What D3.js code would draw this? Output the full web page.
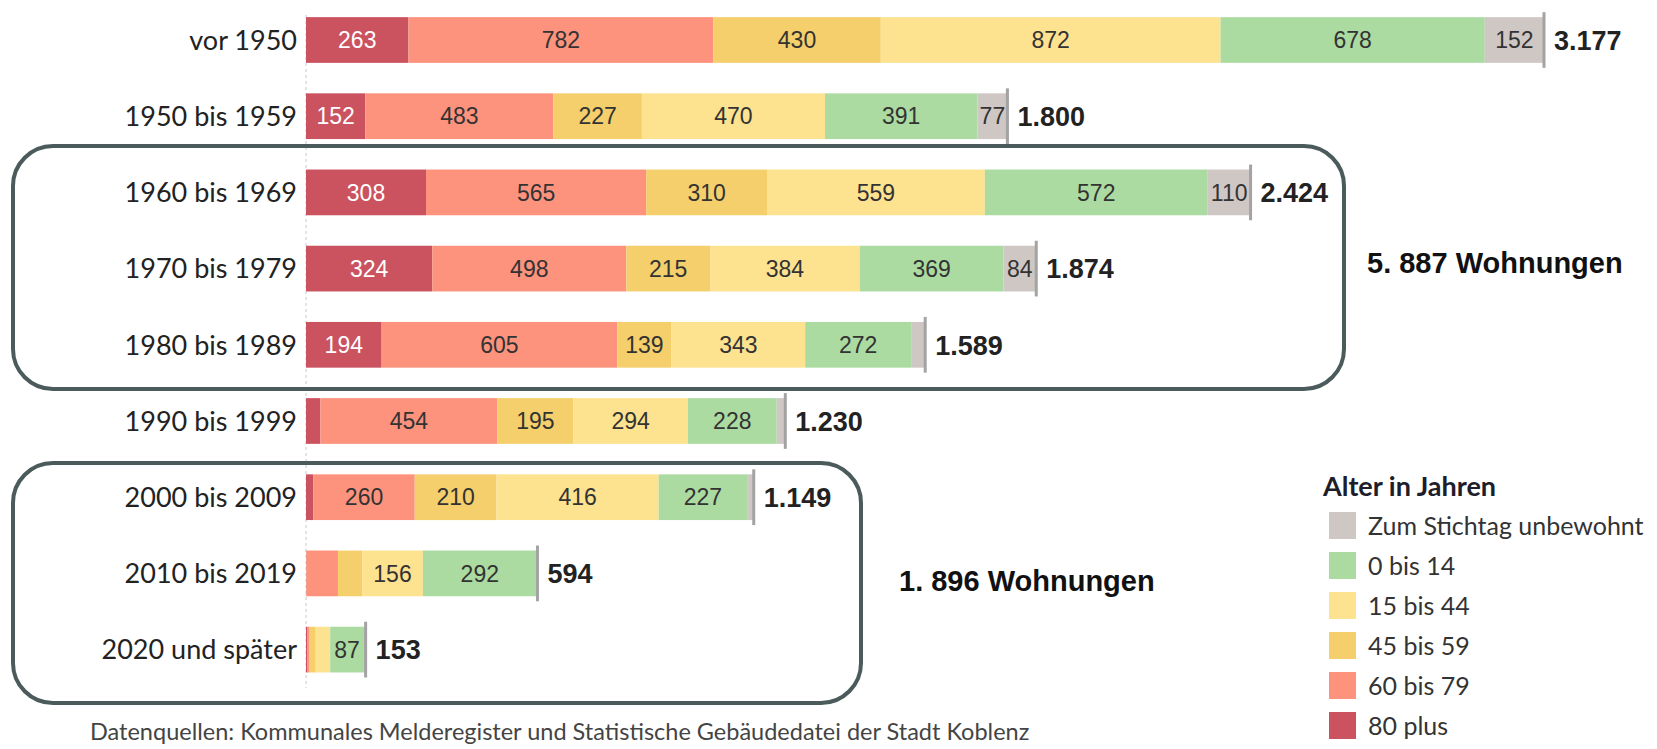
<!DOCTYPE html>
<html>
<head>
<meta charset="utf-8">
<script src="https://cdn.jsdelivr.net/npm/d3@7"></script>
<style>
  body { margin: 0; background: #fff; }
  svg { display: block; }
</style>
</head>
<body>
<svg id="chart"></svg>
<script>
// Baujahr categories (rows, top to bottom)
const categories = [
  "vor 1950", "1950 bis 1959", "1960 bis 1969", "1970 bis 1979", "1980 bis 1989",
  "1990 bis 1999", "2000 bis 2009", "2010 bis 2019", "2020 und später"
];

// age groups in stacking order (left to right)
const ageGroups = ["80 plus", "60 bis 79", "45 bis 59", "15 bis 44", "0 bis 14", "Zum Stichtag unbewohnt"];
const ageColors = ["#cb525f", "#fd927d", "#f4cf6b", "#fde290", "#acdba2", "#cfc7c4"];

// persons per age group (small unlabeled segments are estimated)
const age80plus  = [263, 152, 308, 324, 194, 37, 19, 1, 4];
const age60to79  = [782, 483, 565, 498, 605, 454, 260, 81, 5];
const age45to59  = [430, 227, 310, 215, 139, 195, 210, 62, 16];
const age15to44  = [872, 470, 559, 384, 343, 294, 416, 156, 37];
const age0to14   = [678, 391, 572, 369, 272, 228, 227, 292, 87];
const unbewohnt  = [152, 77, 110, 84, 36, 22, 17, 2, 4];
const totals     = [3177, 1800, 2424, 1874, 1589, 1230, 1149, 594, 153];

// segments without a printed number in the original
const hiddenLabels = {
  "1980 bis 1989": ["Zum Stichtag unbewohnt"],
  "1990 bis 1999": ["80 plus", "Zum Stichtag unbewohnt"],
  "2000 bis 2009": ["80 plus", "Zum Stichtag unbewohnt"],
  "2010 bis 2019": ["80 plus", "60 bis 79", "45 bis 59", "Zum Stichtag unbewohnt"],
  "2020 und später": ["80 plus", "60 bis 79", "45 bis 59", "15 bis 44", "Zum Stichtag unbewohnt"]
};

const seriesValues = [age80plus, age60to79, age45to59, age15to44, age0to14, unbewohnt];

const W = 1657, H = 749;
const svg = d3.select("#chart").attr("width", W).attr("height", H);

const de = d3.formatLocale({ decimal: ",", thousands: ".", grouping: [3], currency: ["", " €"] });
const fmt = de.format(",d");

// table for the stack layout
const rows = categories.map((c, i) => {
  const r = { category: c, total: totals[i] };
  ageGroups.forEach((g, j) => (r[g] = seriesValues[j][i]));
  return r;
});

const stack = d3.stack().keys(ageGroups)(rows);

// scales
const x = d3.scaleLinear().domain([0, 3177]).range([306, 1544]);
const y = d3.scaleBand().domain(categories).range([1.9, 687.7]).paddingInner(0.4).paddingOuter(0.2);
const color = d3.scaleOrdinal().domain(ageGroups).range(ageColors);

// dashed zero line
svg.append("line")
  .attr("x1", x(0)).attr("x2", x(0))
  .attr("y1", 15).attr("y2", 688)
  .attr("stroke", "#c8c8c8")
  .attr("stroke-width", 1)
  .attr("stroke-dasharray", "3,3");

// bars
const layer = svg.append("g")
  .selectAll("g")
  .data(stack)
  .enter()
  .append("g")
  .attr("fill", (d) => color(d.key));

layer.selectAll("rect")
  .data((d) => d)
  .enter()
  .append("rect")
  .attr("x", (d) => x(d[0]))
  .attr("y", (d) => y(d.data.category))
  .attr("width", (d) => x(d[1]) - x(d[0]))
  .attr("height", y.bandwidth());

// numbers inside segments
layer.selectAll("text")
  .data((d) => d.map((s) => ({ key: d.key, s: s })))
  .enter()
  .filter((d) => !(hiddenLabels[d.s.data.category] || []).includes(d.key))
  .append("text")
  .attr("x", (d) => (x(d.s[0]) + x(d.s[1])) / 2)
  .attr("y", (d) => y(d.s.data.category) + y.bandwidth() / 2)
  .attr("dy", "0.36em")
  .attr("text-anchor", "middle")
  .style("font-family", "'Liberation Sans', Arial, sans-serif")
  .style("font-size", "23px")
  .style("fill", (d) => (d.key === "80 plus" ? "#ffffff" : "#333333"))
  .text((d) => d.s.data[d.key]);

// total markers and labels
svg.append("g")
  .selectAll("line")
  .data(rows)
  .enter()
  .append("line")
  .attr("x1", (d) => x(d.total)).attr("x2", (d) => x(d.total))
  .attr("y1", (d) => y(d.category) - 5)
  .attr("y2", (d) => y(d.category) + y.bandwidth() + 5)
  .attr("stroke", "#a3a3a3")
  .attr("stroke-width", 3);

svg.append("g")
  .selectAll("text")
  .data(rows)
  .enter()
  .append("text")
  .attr("x", (d) => x(d.total) + 10)
  .attr("y", (d) => y(d.category) + y.bandwidth() / 2)
  .attr("dy", "0.36em")
  .style("font-family", "'Liberation Sans', Arial, sans-serif")
  .style("font-size", "27px")
  .style("font-weight", "bold")
  .style("fill", "#222")
  .text((d) => fmt(d.total));

// category axis labels
svg.append("g")
  .selectAll("text")
  .data(categories)
  .enter()
  .append("text")
  .attr("x", 297)
  .attr("y", (d) => y(d) + y.bandwidth() / 2)
  .attr("dy", "0.36em")
  .attr("text-anchor", "end")
  .style("font-family", "Lato, sans-serif")
  .style("font-size", "27px")
  .style("fill", "#222")
  .text((d) => d);

// highlight boxes
const boxes = [
  { x0: 13, x1: 1344, y0: 146, y1: 389, label: "5. 887 Wohnungen", lx: 1367, ly: 273 },
  { x0: 13, x1: 861, y0: 463, y1: 703, label: "1. 896 Wohnungen", lx: 899, ly: 591 }
];

svg.append("g")
  .selectAll("rect")
  .data(boxes)
  .enter()
  .append("rect")
  .attr("x", (d) => d.x0)
  .attr("y", (d) => d.y0)
  .attr("width", (d) => d.x1 - d.x0)
  .attr("height", (d) => d.y1 - d.y0)
  .attr("rx", 40)
  .attr("fill", "none")
  .attr("stroke", "#4b5b5b")
  .attr("stroke-width", 4);

svg.append("g")
  .selectAll("text")
  .data(boxes)
  .enter()
  .append("text")
  .attr("x", (d) => d.lx)
  .attr("y", (d) => d.ly)
  .style("font-family", "'Liberation Sans', Arial, sans-serif")
  .style("font-size", "29px")
  .style("font-weight", "bold")
  .style("fill", "#111")
  .text((d) => d.label);

// legend
const legend = svg.append("g").attr("transform", "translate(1323, 0)");
legend.append("text")
  .attr("x", 0)
  .attr("y", 496)
  .style("font-family", "Lato, sans-serif")
  .style("font-size", "27px")
  .style("font-weight", "bold")
  .style("fill", "#1d1d2b")
  .text("Alter in Jahren");

const legendItems = ageGroups.slice().reverse();
const item = legend.selectAll(".item")
  .data(legendItems)
  .enter()
  .append("g")
  .attr("class", "item")
  .attr("transform", (d, i) => `translate(6, ${512 + i * 40})`);

item.append("rect")
  .attr("width", 27)
  .attr("height", 27)
  .attr("fill", (d) => color(d));

item.append("text")
  .attr("x", 39)
  .attr("y", 23)
  .style("font-family", "Lato, sans-serif")
  .style("font-size", "25px")
  .style("fill", "#333")
  .text((d) => d);

// source note
svg.append("text")
  .attr("x", 90)
  .attr("y", 740)
  .style("font-family", "Lato, sans-serif")
  .style("font-size", "23.5px")
  .style("fill", "#444")
  .text("Datenquellen: Kommunales Melderegister und Statistische Gebäudedatei der Stadt Koblenz");
</script>
</body>
</html>
